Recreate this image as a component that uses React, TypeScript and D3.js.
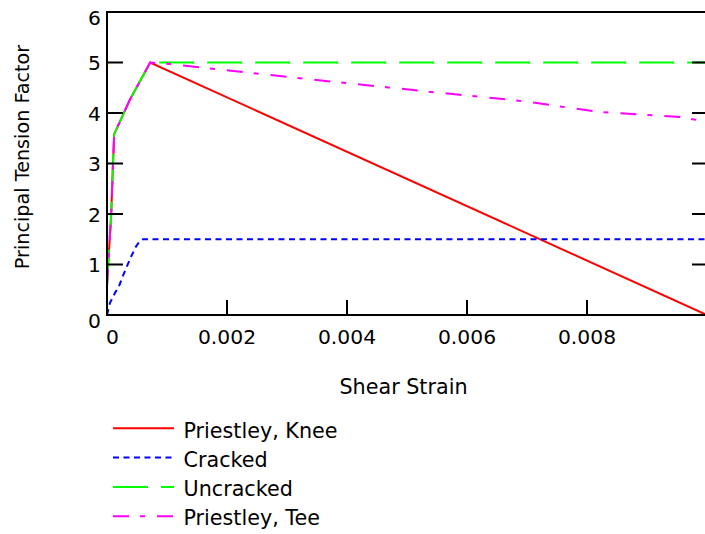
import React, { useEffect, useRef } from 'react';
import * as d3 from 'd3';

// Shear strain vs principal tension factor
const kneeStrain = [0, 0.00002, 0.00007, 0.0001, 0.00012, 0.00038, 0.00072, 0.01];
const kneeFactor = [0.6, 1.0, 2.0, 3.0, 3.58, 4.26, 5.0, 0.0];

const crackedStrain = [0, 0.00005, 0.00013, 0.0002, 0.00027, 0.00033, 0.0004, 0.00048, 0.00055, 0.0006, 0.00997];
const crackedFactor = [0, 0.24, 0.43, 0.57, 0.79, 0.96, 1.15, 1.35, 1.47, 1.5, 1.5];

const uncrackedStrain = [0, 0.00002, 0.00007, 0.0001, 0.00012, 0.00038, 0.00072, 0.01];
const uncrackedFactor = [0.6, 1.0, 2.0, 3.0, 3.58, 4.26, 5.0, 5.0];

const teeStrain = [0, 0.00002, 0.00007, 0.0001, 0.00012, 0.00038, 0.00072, 0.00105, 0.0018, 0.004, 0.00555, 0.0069, 0.0082, 0.00955, 0.00993];
const teeFactor = [0.6, 1.0, 2.0, 3.0, 3.58, 4.26, 5.0, 4.97, 4.87, 4.59, 4.4, 4.24, 4.02, 3.92, 3.84];

const xTicks = [0, 0.002, 0.004, 0.006, 0.008];
const xTickLabels = ['0', '0.002', '0.004', '0.006', '0.008'];
const yTicks = [0, 1, 2, 3, 4, 5, 6];

const seriesNames = ['Priestley, Knee', 'Cracked', 'Uncracked', 'Priestley, Tee'];
const seriesColors = ['#ff0000', '#0000ff', '#00ff00', '#ff00ff'];
const seriesDashes = ['none', '6,4.5', '35,13', '16,11,5,12'];

const FONT = '"DejaVu Sans", Verdana, sans-serif';

const App = () => {
  const svgRef = useRef<SVGSVGElement>(null);

  useEffect(() => {
    const svg = d3.select(svgRef.current);
    svg.selectAll('*').remove();

    const left = 107, right = 707, top = 12, bottom = 315;

    const x = d3.scaleLinear().domain([0, 0.01]).range([left, right]);
    const y = d3.scaleLinear().domain([0, 6]).range([bottom, top]);

    const series = [
      { s: kneeStrain, f: kneeFactor },
      { s: crackedStrain, f: crackedFactor },
      { s: uncrackedStrain, f: uncrackedFactor },
      { s: teeStrain, f: teeFactor },
    ];

    const line = d3.line<[number, number]>()
      .x(d => x(d[0]))
      .y(d => y(d[1]));

    // draw order: knee at the bottom, tee on top
    const order = [0, 2, 3, 1];
    order.forEach(i => {
      const pts = series[i].s.map((v, j) => [v, series[i].f[j]] as [number, number]);
      svg.append('path')
        .attr('d', line(pts))
        .attr('fill', 'none')
        .attr('stroke', seriesColors[i])
        .attr('stroke-width', 2)
        .attr('stroke-dasharray', seriesDashes[i]);
    });

    // frame
    const axis = svg.append('g').attr('stroke', '#000').attr('stroke-width', 2);
    axis.append('line').attr('x1', left).attr('x2', left).attr('y1', top - 1).attr('y2', bottom + 1);
    axis.append('line').attr('x1', left).attr('x2', right).attr('y1', top).attr('y2', top);
    axis.append('line').attr('x1', left).attr('x2', right).attr('y1', bottom).attr('y2', bottom);
    axis.append('line').attr('x1', right).attr('x2', right).attr('y1', top).attr('y2', bottom);

    // y ticks, both sides, inward
    yTicks.forEach(t => {
      axis.append('line').attr('x1', left).attr('x2', left + 16).attr('y1', y(t)).attr('y2', y(t));
      axis.append('line').attr('x1', right - 15).attr('x2', right).attr('y1', y(t)).attr('y2', y(t));
    });
    xTicks.forEach(t => {
      axis.append('line').attr('x1', x(t)).attr('x2', x(t)).attr('y1', bottom).attr('y2', bottom - 15);
    });

    const txt = svg.append('g')
      .attr('font-family', FONT)
      .attr('fill', '#000');

    yTicks.forEach(t => {
      let base = y(t) + 7.5;
      if (t === 6) base = y(t) + 13;
      if (t === 0) base = y(t) + 13;
      txt.append('text')
        .attr('x', 101)
        .attr('y', base)
        .attr('font-size', 20.3)
        .attr('text-anchor', 'end')
        .text(String(t));
    });

    xTicks.forEach((t, i) => {
      txt.append('text')
        .attr('x', i === 0 ? x(t) - 1 : x(t))
        .attr('y', 344)
        .attr('font-size', 20.3)
        .attr('text-anchor', i === 0 ? 'start' : 'middle')
        .text(xTickLabels[i]);
    });

    txt.append('text')
      .attr('x', 403.5)
      .attr('y', 394)
      .attr('font-size', 20.7)
      .attr('text-anchor', 'middle')
      .text('Shear Strain');

    txt.append('text')
      .attr('transform', 'translate(28.5,157) rotate(-90)')
      .attr('font-size', 19.2)
      .attr('text-anchor', 'middle')
      .text('Principal Tension Factor');

    // legend
    seriesNames.forEach((name, i) => {
      const base = 437.5 + i * 29.3;
      svg.append('line')
        .attr('x1', 113).attr('x2', 174)
        .attr('y1', base - 9.2).attr('y2', base - 9.2)
        .attr('stroke', seriesColors[i])
        .attr('stroke-width', 2)
        .attr('stroke-dasharray', seriesDashes[i]);
      txt.append('text')
        .attr('x', 183.5)
        .attr('y', base)
        .attr('font-size', 20.7)
        .text(name);
    });
  }, []);

  return (
    <div style={{ position: 'absolute', left: 0, top: 0, width: 705, height: 534, background: '#fff' }}>
      <svg ref={svgRef} width={705} height={534} style={{ display: 'block' }}></svg>
    </div>
  );
};

export default App;
